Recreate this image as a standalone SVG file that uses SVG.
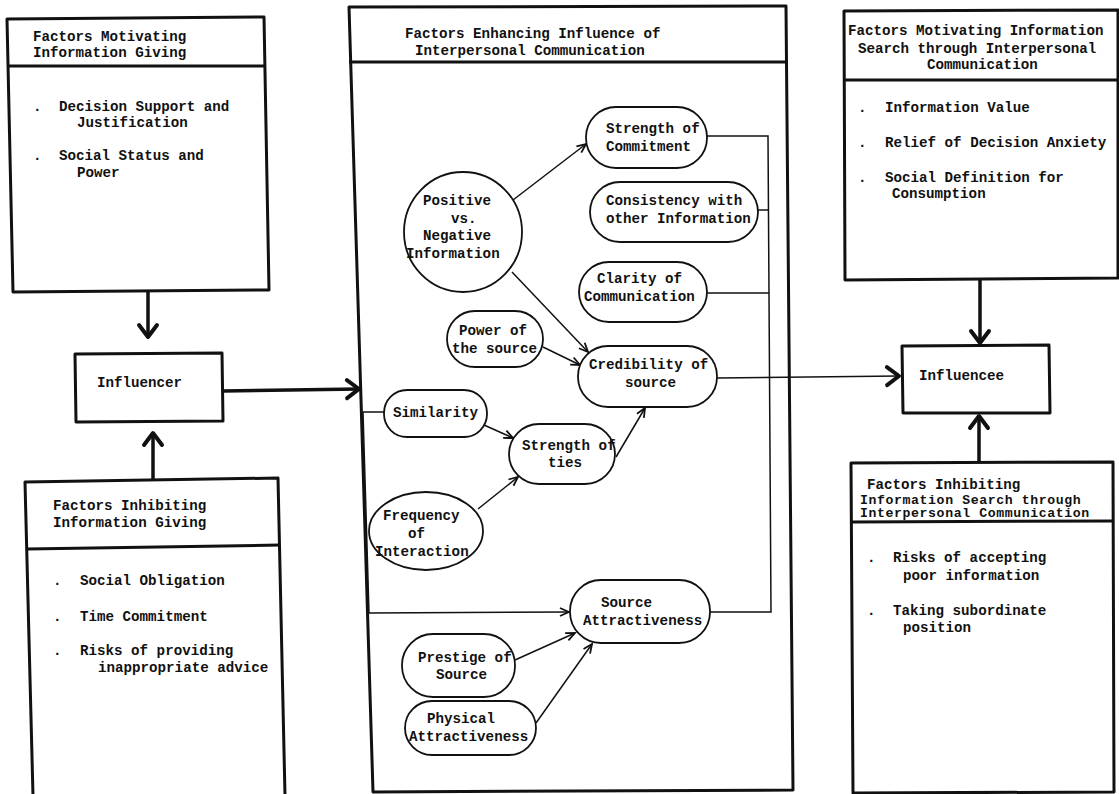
<svg xmlns="http://www.w3.org/2000/svg" width="1119" height="794" viewBox="0 0 1119 794">
  <defs>
    <style>
      text { font-family: "Liberation Mono", "Courier New", monospace; font-size: 14.2px; font-weight: bold; fill: #111; }
      .tight { font-size: 13.2px; letter-spacing: 0.6px; }
      .box { fill: none; stroke: #111; stroke-width: 3; stroke-linejoin: round; }
      .div { fill: none; stroke: #111; stroke-width: 3; }
      .node { fill: #fff; stroke: #111; stroke-width: 1.8; }
      .link { fill: none; stroke: #111; stroke-width: 1.5; }
      .big { fill: none; stroke: #111; stroke-width: 3.5; }
    </style>
    <marker id="chev" viewBox="-16 -12 20 24" markerWidth="20" markerHeight="24" refX="0" refY="0" orient="auto" markerUnits="userSpaceOnUse">
      <path d="M-12,-9 L0,0 L-12,9" fill="none" stroke="#111" stroke-width="4" stroke-linecap="round" stroke-linejoin="round"/>
    </marker>
    <marker id="tip" viewBox="-11 -6 13 12" markerWidth="13" markerHeight="12" refX="0" refY="0" orient="auto" markerUnits="userSpaceOnUse">
      <path d="M-9,-4 L0,0 L-9,4" fill="none" stroke="#111" stroke-width="1.8" stroke-linejoin="miter"/>
    </marker>
  </defs>
  <rect width="1119" height="794" fill="#fff"/>

  <!-- outer factor panels -->
  <g id="motivating-giving">
    <path class="box" d="M7,19 L264,17 L269,290 L13,292 Z"/>
    <path class="div" d="M8,66 L265,66"/>
    <text x="33" y="41">Factors Motivating</text>
    <text x="33" y="57">Information Giving</text>
    <text x="33" y="111">.</text><text x="59" y="111">Decision Support and</text>
    <text x="77" y="127">Justification</text>
    <text x="33" y="160">.</text><text x="59" y="160">Social Status and</text>
    <text x="77" y="177">Power</text>
  </g>

  <g id="inhibiting-giving">
    <path class="box" d="M33,796 L25,482 L278,478 L285,796"/>
    <path class="div" d="M27,549 L280,545"/>
    <text x="53" y="510">Factors Inhibiting</text>
    <text x="53" y="527">Information Giving</text>
    <text x="53" y="585">.</text><text x="80" y="585">Social Obligation</text>
    <text x="53" y="621">.</text><text x="80" y="621">Time Commitment</text>
    <text x="53" y="655">.</text><text x="80" y="655">Risks of providing</text>
    <text x="98" y="672">inappropriate advice</text>
  </g>

  <g id="influencer">
    <path class="box" d="M75,354 L222,353 L223,421 L76,422 Z"/>
    <text x="97" y="387">Influencer</text>
  </g>

  <g id="enhancing-panel">
    <path class="box" d="M349,7 L786,6 L793,790 L373,792 Z"/>
    <path class="div" d="M349,62 L786,62" stroke-width="4"/>
    <text x="405" y="38">Factors Enhancing Influence of</text>
    <text x="415" y="55">Interpersonal Communication</text>
  </g>

  <g id="motivating-search">
    <path class="box" d="M844,11 L1118,10 L1118,278 L845,280 Z"/>
    <path class="div" d="M844,80 L1118,80"/>
    <text x="848" y="35">Factors Motivating Information</text>
    <text x="858" y="53">Search through Interpersonal</text>
    <text x="927" y="69">Communication</text>
    <text x="858" y="112">.</text><text x="885" y="112">Information Value</text>
    <text x="858" y="147">.</text><text x="885" y="147">Relief of Decision Anxiety</text>
    <text x="858" y="182">.</text><text x="885" y="182">Social Definition for</text>
    <text x="892" y="198">Consumption</text>
  </g>

  <g id="inhibiting-search">
    <path class="box" d="M851,463 L1113,462 L1114,792 L853,793 Z"/>
    <path class="div" d="M852,522 L1113,521"/>
    <text x="867" y="489">Factors Inhibiting</text>
    <text class="tight" x="860" y="504">Information Search through</text>
    <text class="tight" x="860" y="517">Interpersonal Communication</text>
    <text x="867" y="562">.</text><text x="893" y="562">Risks of accepting</text>
    <text x="903" y="580">poor information</text>
    <text x="867" y="615">.</text><text x="893" y="615">Taking subordinate</text>
    <text x="903" y="632">position</text>
  </g>

  <g id="influencee">
    <path class="box" d="M902,346 L1049,345 L1050,413 L903,413 Z"/>
    <text x="919" y="380">Influencee</text>
  </g>

  <!-- connectors -->
  <g id="connectors">
    <!-- main flow arrows -->
    <path class="big" d="M148,291 L148,337" marker-end="url(#chev)"/>
    <path class="big" d="M153,480 L153,433" marker-end="url(#chev)"/>
    <path class="big" d="M223,391 L359,389" marker-end="url(#chev)"/>
    <path class="big" d="M980,279 L980,343" marker-end="url(#chev)"/>
    <path class="big" d="M979,462 L979,416" marker-end="url(#chev)"/>
    <path class="link" d="M717,378 L899,376" stroke-width="2.5" marker-end="url(#chev)"/>

    <!-- links among the enhancing factors -->
    <path class="link" d="M513,200 L586,144" marker-end="url(#tip)"/>
    <path class="link" d="M512,272 L588,352" marker-end="url(#tip)"/>
    <path class="link" d="M543,347 L580,365" marker-end="url(#tip)"/>
    <path class="link" d="M484,425 L513,438" marker-end="url(#tip)"/>
    <path class="link" d="M478,509 L518,477" marker-end="url(#tip)"/>
    <path class="link" d="M616,457 L645,408" marker-end="url(#tip)"/>
    <path class="link" d="M515,660 L575,633" marker-end="url(#tip)"/>
    <path class="link" d="M536,723 L592,644" marker-end="url(#tip)"/>
    <path class="link" d="M384,412 L363,412 L369,613 L569,612" stroke-width="2" marker-end="url(#tip)"/>

    <!-- collecting line on the right -->
    <path class="link" d="M707,136 L768,136 L771,612 L710,612"/>
    <path class="link" d="M758,210 L768,210"/>
    <path class="link" d="M707,293 L769,293"/>
  </g>

  <!-- enhancing factors -->
  <g id="strength-of-commitment">
    <rect class="node" x="586" y="107" width="121" height="61" rx="30"/>
    <text x="606" y="133">Strength of</text>
    <text x="606" y="151">Commitment</text>
  </g>
  <g id="consistency">
    <rect class="node" x="590" y="182" width="168" height="60" rx="30"/>
    <text x="606" y="205">Consistency with</text>
    <text x="606" y="223">other Information</text>
  </g>
  <g id="clarity">
    <rect class="node" x="579" y="262" width="128" height="60" rx="30"/>
    <text x="597" y="283">Clarity of</text>
    <text x="584" y="301">Communication</text>
  </g>
  <g id="positive-negative">
    <ellipse class="node" cx="463" cy="232" rx="59" ry="60"/>
    <text x="423" y="205">Positive</text>
    <text x="451" y="223">vs.</text>
    <text x="423" y="240">Negative</text>
    <text x="406" y="258">Information</text>
  </g>
  <g id="power-of-source">
    <rect class="node" x="447" y="311" width="96" height="56" rx="28"/>
    <text x="459" y="335">Power of</text>
    <text x="452" y="353">the source</text>
  </g>
  <g id="credibility">
    <rect class="node" x="578" y="346" width="139" height="61" rx="30"/>
    <text x="589" y="369">Credibility of</text>
    <text x="625" y="387">source</text>
  </g>
  <g id="similarity">
    <rect class="node" x="384" y="390" width="103" height="47" rx="23"/>
    <text x="393" y="417">Similarity</text>
  </g>
  <g id="strength-of-ties">
    <rect class="node" x="509" y="424" width="106" height="60" rx="30"/>
    <text x="522" y="450">Strength of</text>
    <text x="548" y="467">ties</text>
  </g>
  <g id="frequency">
    <ellipse class="node" cx="426" cy="531" rx="57" ry="39"/>
    <text x="383" y="520">Frequency</text>
    <text x="408" y="538">of</text>
    <text x="375" y="556">Interaction</text>
  </g>
  <g id="source-attractiveness">
    <rect class="node" x="570" y="580" width="140" height="63" rx="31"/>
    <text x="601" y="607">Source</text>
    <text x="583" y="625">Attractiveness</text>
  </g>
  <g id="prestige">
    <rect class="node" x="402" y="634" width="113" height="63" rx="31"/>
    <text x="418" y="662">Prestige of</text>
    <text x="436" y="679">Source</text>
  </g>
  <g id="physical">
    <rect class="node" x="405" y="701" width="131" height="54" rx="27"/>
    <text x="427" y="723">Physical</text>
    <text x="409" y="741">Attractiveness</text>
  </g>
</svg>
